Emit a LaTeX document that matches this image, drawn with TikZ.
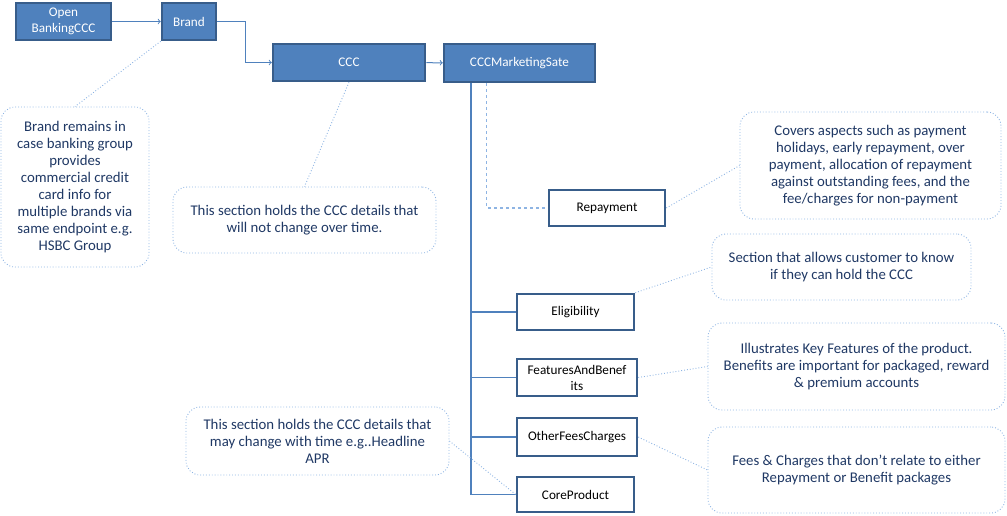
\documentclass[tikz,border=0pt]{standalone}
\usepackage{fontspec}
\setmainfont{Carlito}
\usepackage{tikz}
\usetikzlibrary{arrows,calc,positioning}
\definecolor{boxfill}{HTML}{4F81BD}
\definecolor{boxline}{HTML}{385D8A}
\definecolor{notecol}{HTML}{8EB4E3}
\definecolor{notetext}{HTML}{1F3864}

\begin{document}
\begin{tikzpicture}[x=1pt,y=-1pt,
	main_node/.style={rectangle,fill=boxfill,draw=boxline,line width=2.5pt,text=white,font=\fontsize{13.2}{16}\selectfont,align=center,inner sep=0pt},
	sub_node/.style={rectangle,fill=white,draw=boxline,line width=2.5pt,text=black,font=\fontsize{13.2}{16}\selectfont,align=center,inner sep=0pt},
	note_node/.style={rectangle,rounded corners=14pt,draw=notecol,dotted,line width=0.9pt,text=notetext,font=\fontsize{14.8}{17}\selectfont,align=center,inner sep=0pt},
	note_line/.style={draw=notecol,dotted,line width=0.9pt},
	tree_line/.style={draw=boxfill,line width=1.5pt}]
				\useasboundingbox (0,0) rectangle (1007,515);
				% top row
				\node[main_node,minimum width=95pt,minimum height=37pt](ob) at (63.5,21.5){Open\\BankingCCC};
				\node[main_node,minimum width=54pt,minimum height=37pt](brand) at (189,21.5){Brand};
				\node[main_node,minimum width=152pt,minimum height=37pt](ccc) at (349,62.5){CCC};
				\node[main_node,minimum width=151pt,minimum height=38pt](mkt) at (519.5,63){CCCMarketingSate};
				% sections
				\node[sub_node,minimum width=116pt,minimum height=36pt](repay) at (607,208){Repayment};
				\node[sub_node,minimum width=117pt,minimum height=36pt](elig) at (575.5,312){Eligibility};
				\node[sub_node,minimum width=120pt,minimum height=37pt](feat) at (577,377.5){FeaturesAndBenef\\its};
				\node[sub_node,minimum width=120pt,minimum height=38pt](other) at (577,437){OtherFeesCharges};
				\node[sub_node,minimum width=117pt,minimum height=35pt](core) at (575.5,494.5){CoreProduct};
				% notes
				\node[note_node,minimum width=148pt,minimum height=160pt](nbrand) at (75,187){Brand remains in\\case banking group\\provides\\commercial credit\\card info for\\multiple brands via\\same endpoint e.g.\\HSBC Group};
				\node[note_node,minimum width=263pt,minimum height=66pt](nccc) at (304.5,220){This section holds the CCC details that\\will not change over time.};
				\node[note_node,minimum width=261pt,minimum height=107pt](nrepay) at (870.5,165.5){Covers aspects such as payment\\holidays, early repayment, over\\payment, allocation of repayment\\against outstanding fees, and the\\fee/charges for non-payment};
				\node[note_node,minimum width=259pt,minimum height=66pt](nelig) at (841.5,267){Section that allows customer to know\\if they can hold the CCC};
				\node[note_node,minimum width=297pt,minimum height=87pt](nfeat) at (856.5,366.5){Illustrates Key Features of the product.\\Benefits are important for packaged, reward\\\& premium accounts};
				\node[note_node,minimum width=297pt,minimum height=86pt](nother) at (856.5,470){Fees \& Charges that don’t relate to either\\Repayment or Benefit packages};
				\node[note_node,minimum width=263pt,minimum height=68pt](ncore) at (317.5,441){This section holds the CCC details that\\may change with time e.g..Headline\\APR};
				% links
				\draw[-to,draw=boxfill,line width=1pt] (ob) -- (brand);
				\draw[-to,draw=boxfill,line width=1pt] (brand.east) -- ++(28,0) |- (ccc.west);
				\draw[-to,draw=boxfill,line width=1pt] (ccc) -- (mkt);
				\coordinate (trunk) at ($(mkt.south west)+(28,0)$);
				\coordinate (dash) at ($(mkt.south west)+(44,0)$);
				\draw[tree_line] (trunk) |- (core.west);
				\foreach \n in {elig,feat,other}
					\draw[tree_line] (trunk) |- (\n.west);
				\draw[draw=notecol,dashed,line width=1.2pt] (dash) |- (repay.west);
				% callouts
				\path[every edge/.style={note_line}]
				(brand.south west) edge (nbrand.north)
				(ccc.south) edge (nccc.north)
				(repay.east) edge (nrepay.west)
				(elig.north east) edge (nelig.west)
				(feat.east) edge (nfeat.west)
				(other.east) edge (nother.west)
				(ncore.east) edge (core.west);
			\end{tikzpicture}
\end{document}
